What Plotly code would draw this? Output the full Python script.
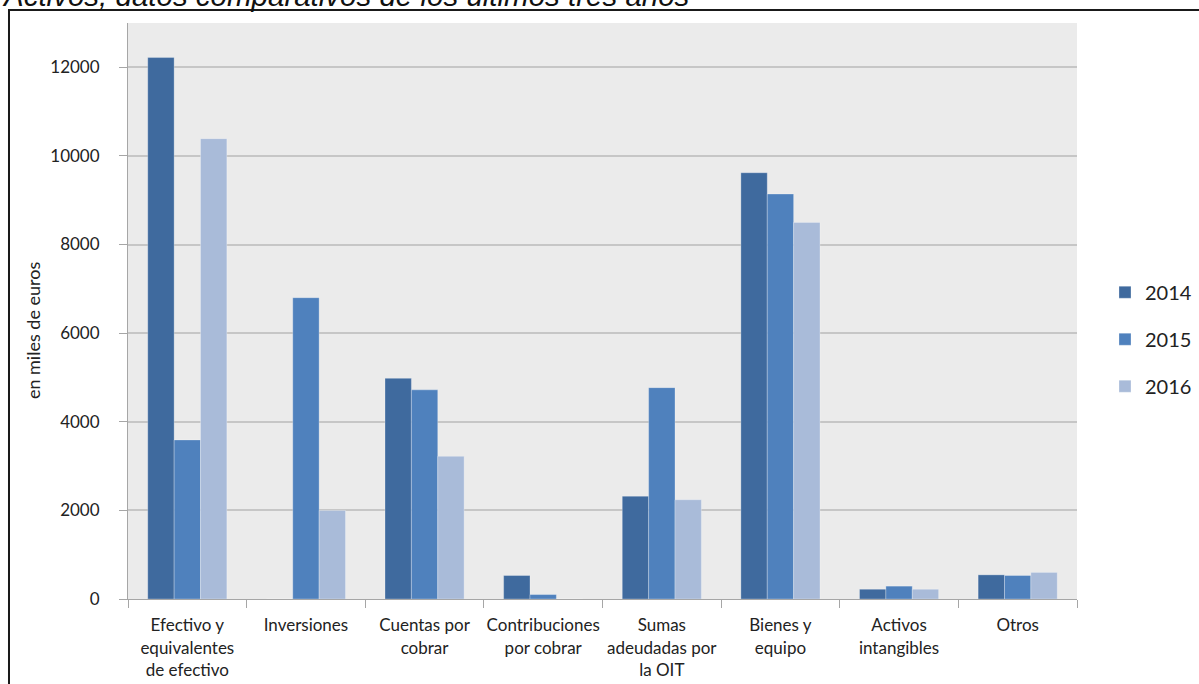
import plotly.graph_objects as go

categorias = [
    "Efectivo y<br>equivalentes<br>de efectivo",
    "Inversiones",
    "Cuentas por<br>cobrar",
    "Contribuciones<br>por cobrar",
    "Sumas<br>adeudadas por<br>la OIT",
    "Bienes y<br>equipo",
    "Activos<br>intangibles",
    "Otros",
]

anios = ["2014", "2015", "2016"]
valores_2014 = [12220, 0, 4980, 530, 2320, 9620, 220, 545]
valores_2015 = [3590, 6800, 4720, 100, 4770, 9140, 290, 530]
valores_2016 = [10390, 2000, 3220, 0, 2240, 8500, 220, 600]
colores = ["#3f6a9e", "#4f81bd", "#a9bbd9"]

marcas_y = [0, 2000, 4000, 6000, 8000, 10000, 12000]

fuente = "Lato, 'Open Sans', sans-serif"

fig = go.Figure()
for anio, valores, color in zip(anios, [valores_2014, valores_2015, valores_2016], colores):
    fig.add_trace(go.Bar(
        name=anio,
        x=categorias,
        y=valores,
        marker=dict(color=color, line=dict(color="rgba(255,255,255,0.35)", width=0.8)),
        legendgroup=anio,
    ))

fig.update_layout(
    width=1199,
    height=684,
    margin=dict(l=128, r=122, t=23, b=85),
    paper_bgcolor="white",
    plot_bgcolor="#ebebeb",
    barmode="group",
    bargap=0.333,
    bargroupgap=0,
    font=dict(family=fuente, color="#222222", size=17),
    showlegend=True,
    legend=dict(
        xref="container", x=0.9216, xanchor="left",
        y=0.451, yanchor="middle",
        font=dict(size=20, family=fuente, color="#222222"),
        tracegroupgap=18,
        itemwidth=30,
        bgcolor="rgba(0,0,0,0)",
    ),
    xaxis=dict(
        type="category",
        automargin=False,
        tickangle=0,
        tickson="boundaries",
        ticks="outside",
        ticklen=8,
        tickcolor="#a6a6a6",
        showline=True,
        linecolor="#a6a6a6",
        linewidth=1,
        showgrid=False,
        tickfont=dict(size=17, family=fuente, color="#222222"),
        ticklabelstandoff=11,
    ),
    yaxis=dict(
        range=[0, 13000],
        automargin=False,
        tickvals=marcas_y,
        ticktext=[str(v) for v in marcas_y],
        ticks="outside",
        ticklen=8,
        tickcolor="#a6a6a6",
        showline=True,
        linecolor="#a6a6a6",
        linewidth=1,
        showgrid=True,
        gridcolor="#c6c6c6",
        gridwidth=1.5,
        zeroline=False,
        tickfont=dict(size=17, family=fuente, color="#222222"),
        ticklabelstandoff=16,
    ),
    annotations=[
        dict(
            text="Activos, datos comparativos de los últimos tres años",
            xref="paper", yref="paper",
            x=-0.135, y=1.047,
            xanchor="left", yanchor="middle",
            showarrow=False,
            font=dict(family="'Liberation Sans', Arial, sans-serif", size=29.5,
                      color="#111111", style="italic"),
        ),
        dict(
            text="en miles de euros",
            xref="paper", yref="paper",
            x=-0.1, y=0.467,
            xanchor="center", yanchor="middle",
            textangle=-90,
            showarrow=False,
            font=dict(family=fuente, size=18, color="#222222"),
        ),
    ],
    shapes=[
        dict(
            type="rect", xref="paper", yref="paper",
            x0=-0.1254, x1=1.3, y0=-0.3, y1=1.0226,
            line=dict(color="#1a1a1a", width=2),
            fillcolor="rgba(0,0,0,0)",
            layer="below",
        ),
    ],
)

fig.write_html("out.html")
